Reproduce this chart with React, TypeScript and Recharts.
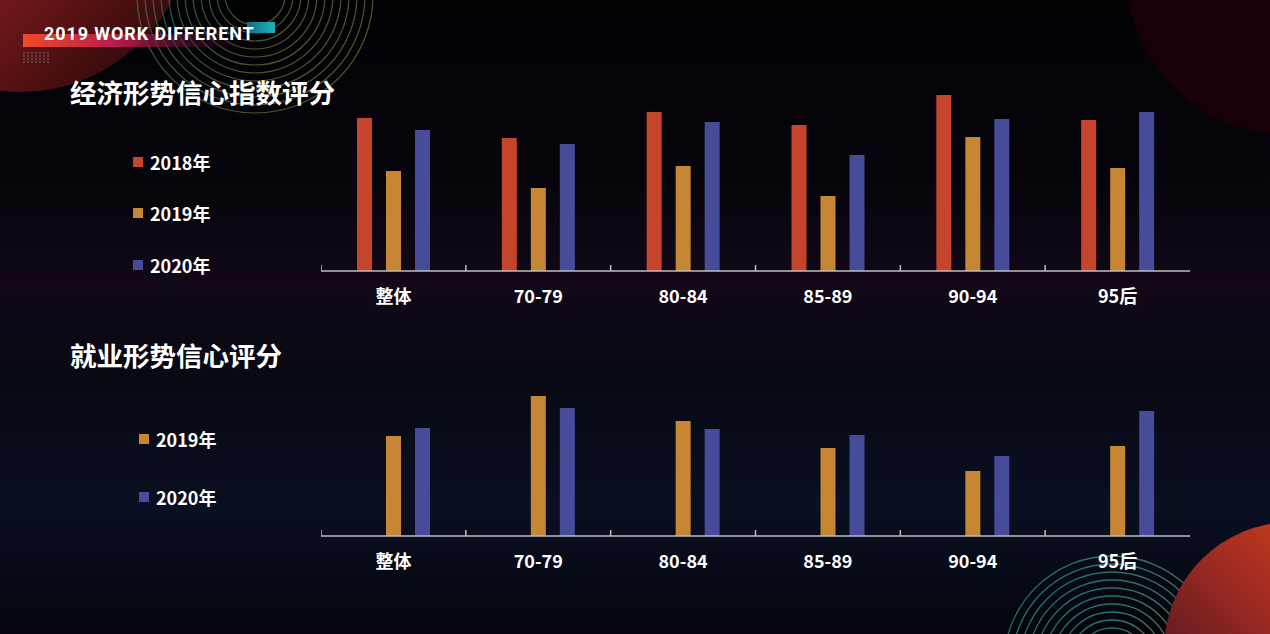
import React from 'react';
import { BarChart, Bar, XAxis, YAxis } from 'recharts';

// categories and series
const categories = ['整体', '70-79', '80-84', '85-89', '90-94', '95后'];
const econ2018 = [153, 133, 159, 146, 176, 151];
const econ2019 = [100, 83, 105, 75, 134, 103];
const econ2020 = [141, 127, 149, 116, 152, 159];
const job2019 = [100, 140, 115, 88, 65, 90];
const job2020 = [108, 128, 107, 101, 80, 125];

const RED = '#c5442b';
const ORANGE = '#c68634';
const BLUE = '#474c9a';
const AXIS = '#bdbdbd';
const FONT = '"Noto Sans CJK SC", "Noto Sans", sans-serif';

const econData = categories.map((name, i) => ({
  name,
  y2018: econ2018[i],
  y2019: econ2019[i],
  y2020: econ2020[i],
}));

// 2018 has no value in the second chart, the slot stays empty
const jobData = categories.map((name, i) => ({
  name,
  y2019: job2019[i],
  y2020: job2020[i],
}));

const CHART_W = 869;
const CHART_H = 220;

// label under the bar group + little upward tick on the left edge of each band
const CategoryTick = (props: any) => {
  const { x, y, payload } = props;
  const half = payload && typeof payload.offset === 'number' ? payload.offset : CHART_W / categories.length / 2;
  return (
    <g>
      <line x1={x - half} x2={x - half} y1={y} y2={y - 6} stroke={AXIS} strokeWidth={1.5} />
      <text x={x} y={y + 32} textAnchor="middle" fill="#ffffff" fontSize={18} fontWeight={700} fontFamily={FONT}>
        {payload.value}
      </text>
    </g>
  );
};

const LegendItem = ({ color, label, top, left }: { color: string; label: string; top: number; left: number }) => (
  <div style={{ position: 'absolute', top, left, display: 'flex', alignItems: 'center', gap: '7px' }}>
    <div style={{ width: '10px', height: '10px', backgroundColor: color }} />
    <span style={{ color: '#fff', fontSize: '18px', fontWeight: 700, fontFamily: FONT, lineHeight: '20px' }}>{label}</span>
  </div>
);

const Decorations = () => (
  <svg width={1270} height={634} style={{ position: 'absolute', left: 0, top: 0 }}>
    <defs>
      <linearGradient id="bg" x1="0" y1="0" x2="0" y2="1">
        <stop offset="0%" stopColor="#020205" />
        <stop offset="30%" stopColor="#07050c" />
        <stop offset="45%" stopColor="#120818" />
        <stop offset="60%" stopColor="#070912" />
        <stop offset="80%" stopColor="#0a0f22" />
        <stop offset="100%" stopColor="#04050c" />
      </linearGradient>
      <linearGradient id="orangeTL" x1="0" y1="0" x2="1" y2="1">
        <stop offset="0%" stopColor="#e2431f" />
        <stop offset="55%" stopColor="#7a1a1a" />
        <stop offset="100%" stopColor="#1a0408" />
      </linearGradient>
      <linearGradient id="orangeBR" x1="1" y1="0" x2="0" y2="1">
        <stop offset="0%" stopColor="#ee4e10" />
        <stop offset="45%" stopColor="#a32c22" />
        <stop offset="100%" stopColor="#2a0a1e" />
      </linearGradient>
      <linearGradient id="ring" x1="0" y1="0" x2="1" y2="1">
        <stop offset="0%" stopColor="#1aa6a6" />
        <stop offset="100%" stopColor="#c2a63a" />
      </linearGradient>
      <linearGradient id="headerBar" x1="0" y1="0" x2="1" y2="0">
        <stop offset="0%" stopColor="#ef4a2a" />
        <stop offset="40%" stopColor="#b81c4a" />
        <stop offset="100%" stopColor="#2a0a2a" stopOpacity={0} />
      </linearGradient>
      <linearGradient id="teal" x1="0" y1="0" x2="1" y2="0">
        <stop offset="0%" stopColor="#0e6f86" />
        <stop offset="100%" stopColor="#1eb3bf" />
      </linearGradient>
    </defs>
    <rect width={1270} height={634} fill="url(#bg)" />
    <circle cx={1290} cy={-30} r={165} fill="#170007" />
    <circle cx={20} cy={-80} r={172} fill="url(#orangeTL)" />
    {[30, 38, 46, 54, 62, 70, 78, 86, 94, 102, 110, 118].map((r) => (
      <circle key={r} cx={255} cy={-5} r={r} fill="none" stroke="url(#ring)" strokeWidth={1.2} opacity={0.5} />
    ))}
    {[20, 28, 36, 44, 52, 60, 68, 76, 84, 92, 100, 108].map((r) => (
      <circle key={r} cx={1112} cy={664} r={r} fill="none" stroke="url(#ring)" strokeWidth={1.3} opacity={0.65} />
    ))}
    <circle cx={1292} cy={650} r={128} fill="url(#orangeBR)" />
    {/* header bar */}
    <rect x={23} y={34} width={230} height={13} fill="url(#headerBar)" />
    <rect x={247} y={22} width={28} height={11} fill="url(#teal)" />
    {[0, 1, 2, 3].map((r) =>
      [0, 1, 2, 3, 4, 5, 6].map((c) => (
        <circle key={`${r}-${c}`} cx={24 + c * 4} cy={53 + r * 3} r={0.7} fill="#8a8a8a" />
      ))
    )}
  </svg>
);

export default function App() {
  return (
    <div style={{ position: 'fixed', left: 0, top: 0, width: 1270, height: 634, overflow: 'hidden', background: '#030208' }}>
      <Decorations />

      <div style={{ position: 'absolute', left: 44, top: 22, color: '#fff', fontSize: '18px', fontWeight: 700, fontFamily: 'Roboto, "Noto Sans", sans-serif', letterSpacing: '0.9px', lineHeight: '24px' }}>
        2019 WORK DIFFERENT
      </div>

      <div style={{ position: 'absolute', left: 70, top: 75, color: '#fff', fontSize: '26.5px', fontWeight: 700, fontFamily: FONT, lineHeight: '34px' }}>
        经济形势信心指数评分
      </div>
      <div style={{ position: 'absolute', left: 70, top: 338, color: '#fff', fontSize: '26.5px', fontWeight: 700, fontFamily: FONT, lineHeight: '34px' }}>
        就业形势信心评分
      </div>

      <LegendItem color={RED} label="2018年" top={152} left={133} />
      <LegendItem color={ORANGE} label="2019年" top={203} left={133} />
      <LegendItem color={BLUE} label="2020年" top={255} left={133} />

      <LegendItem color={ORANGE} label="2019年" top={429} left={139} />
      <LegendItem color={BLUE} label="2020年" top={487} left={139} />

      <div style={{ position: 'absolute', left: 321, top: 91 }}>
        <BarChart width={CHART_W} height={CHART_H} data={econData} margin={{ top: 0, right: 0, bottom: 0, left: 0 }} barSize={15} barGap={14}>
          <XAxis dataKey="name" height={40} axisLine={{ stroke: AXIS, strokeWidth: 1.5 }} tickLine={false} tickSize={0} tickMargin={0} tick={<CategoryTick />} interval={0} />
          <YAxis hide domain={[0, 180]} />
          <Bar dataKey="y2018" fill={RED} isAnimationActive={false} />
          <Bar dataKey="y2019" fill={ORANGE} isAnimationActive={false} />
          <Bar dataKey="y2020" fill={BLUE} isAnimationActive={false} />
        </BarChart>
      </div>

      <div style={{ position: 'absolute', left: 321, top: 356 }}>
        <BarChart width={CHART_W} height={CHART_H} data={jobData} margin={{ top: 0, right: 0, bottom: 0, left: 0 }} barSize={15} barGap={14}>
          <XAxis dataKey="name" height={40} axisLine={{ stroke: AXIS, strokeWidth: 1.5 }} tickLine={false} tickSize={0} tickMargin={0} tick={<CategoryTick />} interval={0} />
          <YAxis hide domain={[0, 180]} />
          <Bar dataKey="y2018" fill={RED} isAnimationActive={false} />
          <Bar dataKey="y2019" fill={ORANGE} isAnimationActive={false} />
          <Bar dataKey="y2020" fill={BLUE} isAnimationActive={false} />
        </BarChart>
      </div>
    </div>
  );
}
